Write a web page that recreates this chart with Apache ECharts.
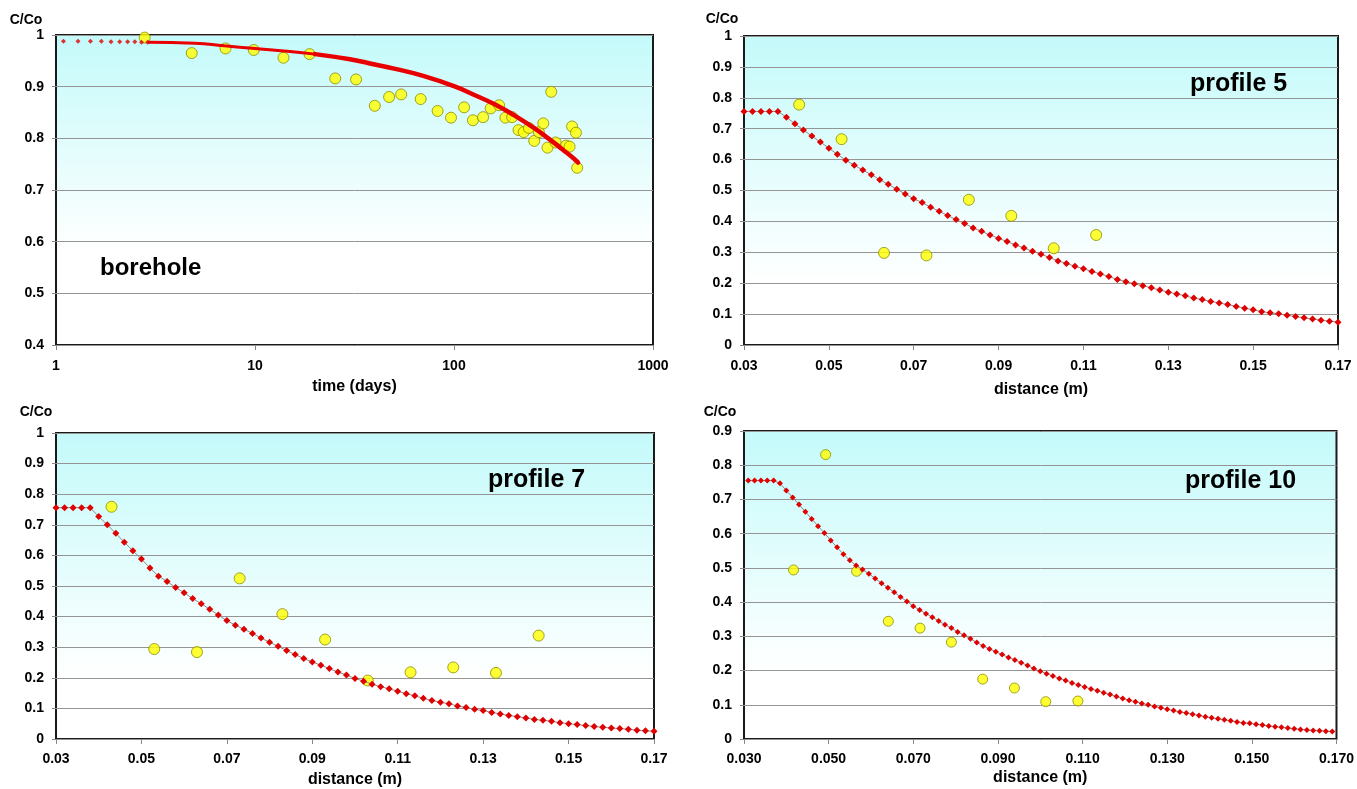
<!DOCTYPE html>
<html><head><meta charset="utf-8">
<script src="https://cdn.jsdelivr.net/npm/echarts@6/dist/echarts.min.js"></script>
<style>html,body{margin:0;padding:0;background:#fff}#c{width:1357px;height:789px}</style>
</head><body><div id="c"></div>
<script>
// ---------- borehole (top left) ----------
const boreholeTime = [2.79, 4.81, 7.11, 9.86, 13.9, 18.8, 25.3, 32.2, 40.0, 47.2, 54.3, 68.0, 82.7, 96.6, 112.4, 124.5, 140, 152.9, 168.5, 181.3, 196, 211, 224, 238, 253, 267, 281, 295, 308, 324, 366, 381, 392, 410, 416];
const boreholeC    = [0.995, 0.965, 0.974, 0.971, 0.956, 0.963, 0.916, 0.914, 0.863, 0.880, 0.885, 0.876, 0.853, 0.840, 0.860, 0.835, 0.841, 0.858, 0.864, 0.840, 0.841, 0.816, 0.812, 0.820, 0.795, 0.812, 0.829, 0.782, 0.890, 0.792, 0.786, 0.784, 0.823, 0.811, 0.743];
const boreholeModelDotTime = [1.09, 1.29, 1.49, 1.69, 1.89, 2.09, 2.29, 2.49, 2.69, 2.89];
const boreholeModelDotC    = [0.988, 0.988, 0.988, 0.988, 0.987, 0.987, 0.987, 0.987, 0.986, 0.986];
const boreholeModelTime = [2.89, 5, 7, 10, 15, 20, 30, 40, 50, 70, 100, 130, 160, 200, 250, 300, 350, 400, 420];
const boreholeModelC    = [0.986, 0.984, 0.979, 0.974, 0.968, 0.963, 0.953, 0.943, 0.935, 0.921, 0.901, 0.882, 0.866, 0.845, 0.821, 0.799, 0.779, 0.761, 0.753];

// ---------- profile 5 (top right) ----------
const profile5Dist = [0.043, 0.053, 0.063, 0.073, 0.083, 0.093, 0.103, 0.113];
const profile5C    = [0.778, 0.666, 0.298, 0.290, 0.470, 0.418, 0.313, 0.356];
const profileModelDist = [0.030, 0.032, 0.034, 0.036, 0.038, 0.040, 0.042, 0.044, 0.046, 0.048,
  0.050, 0.052, 0.054, 0.056, 0.058, 0.060, 0.062, 0.064, 0.066, 0.068,
  0.070, 0.072, 0.074, 0.076, 0.078, 0.080, 0.082, 0.084, 0.086, 0.088,
  0.090, 0.092, 0.094, 0.096, 0.098, 0.100, 0.102, 0.104, 0.106, 0.108,
  0.110, 0.112, 0.114, 0.116, 0.118, 0.120, 0.122, 0.124, 0.126, 0.128,
  0.130, 0.132, 0.134, 0.136, 0.138, 0.140, 0.142, 0.144, 0.146, 0.148,
  0.150, 0.152, 0.154, 0.156, 0.158, 0.160, 0.162, 0.164, 0.166, 0.168, 0.170];
const profile5ModelC = [0.756, 0.756, 0.756, 0.756, 0.756, 0.737, 0.716, 0.696, 0.676, 0.657,
  0.637, 0.617, 0.598, 0.582, 0.566, 0.551, 0.535, 0.520, 0.504, 0.489,
  0.473, 0.461, 0.446, 0.433, 0.419, 0.406, 0.393, 0.379, 0.368, 0.356,
  0.345, 0.335, 0.324, 0.314, 0.303, 0.294, 0.283, 0.272, 0.264, 0.255,
  0.247, 0.238, 0.230, 0.222, 0.212, 0.205, 0.198, 0.192, 0.185, 0.178,
  0.171, 0.165, 0.159, 0.152, 0.147, 0.141, 0.136, 0.131, 0.125, 0.119,
  0.114, 0.108, 0.104, 0.101, 0.096, 0.092, 0.088, 0.084, 0.080, 0.077, 0.074];

// ---------- profile 7 (bottom left) ----------
const profile7Dist = [0.043, 0.053, 0.063, 0.073, 0.083, 0.093, 0.103, 0.113, 0.123, 0.133, 0.143];
const profile7C    = [0.759, 0.294, 0.284, 0.525, 0.408, 0.325, 0.191, 0.218, 0.234, 0.216, 0.338];
const profile7ModelC = [0.756, 0.756, 0.756, 0.756, 0.756, 0.727, 0.700, 0.672, 0.643, 0.615,
  0.588, 0.559, 0.532, 0.515, 0.495, 0.478, 0.459, 0.442, 0.424, 0.405,
  0.387, 0.372, 0.359, 0.345, 0.330, 0.316, 0.303, 0.289, 0.276, 0.263,
  0.252, 0.241, 0.230, 0.219, 0.209, 0.198, 0.189, 0.179, 0.171, 0.164,
  0.156, 0.148, 0.141, 0.133, 0.126, 0.120, 0.115, 0.108, 0.103, 0.097,
  0.093, 0.087, 0.082, 0.077, 0.073, 0.069, 0.064, 0.061, 0.058, 0.053,
  0.050, 0.047, 0.044, 0.041, 0.038, 0.036, 0.034, 0.032, 0.029, 0.027, 0.025];

// ---------- profile 10 (bottom right) ----------
const profile10Dist = [0.0417, 0.0493, 0.0566, 0.0641, 0.0716, 0.0790, 0.0864, 0.0939, 0.1013, 0.1089];
const profile10C    = [0.494, 0.831, 0.490, 0.344, 0.324, 0.283, 0.175, 0.149, 0.109, 0.111];
const profile10ModelDist = [0.0310, 0.0325, 0.0340, 0.0355, 0.0370, 0.0385, 0.0400, 0.0415, 0.0430, 0.0445,
  0.0460, 0.0475, 0.0490, 0.0505, 0.0520, 0.0535, 0.0550, 0.0565, 0.0580, 0.0595,
  0.0610, 0.0625, 0.0640, 0.0655, 0.0670, 0.0685, 0.0700, 0.0715, 0.0730, 0.0745,
  0.0760, 0.0775, 0.0790, 0.0805, 0.0820, 0.0835, 0.0850, 0.0865, 0.0880, 0.0895,
  0.0910, 0.0925, 0.0940, 0.0955, 0.0970, 0.0985, 0.1000, 0.1015, 0.1030, 0.1045,
  0.1060, 0.1075, 0.1090, 0.1105, 0.1120, 0.1135, 0.1150, 0.1165, 0.1180, 0.1195,
  0.1210, 0.1225, 0.1240, 0.1255, 0.1270, 0.1285, 0.1300, 0.1315, 0.1330, 0.1345,
  0.1360, 0.1375, 0.1390, 0.1405, 0.1420, 0.1435, 0.1450, 0.1465, 0.1480, 0.1495,
  0.1510, 0.1525, 0.1540, 0.1555, 0.1570, 0.1585, 0.1600, 0.1615, 0.1630, 0.1645,
  0.1660, 0.1675, 0.1690];
const profile10ModelC = [0.755, 0.755, 0.755, 0.755, 0.755, 0.747, 0.726, 0.706, 0.685, 0.664,
  0.643, 0.622, 0.602, 0.580, 0.560, 0.540, 0.522, 0.507, 0.495, 0.483,
  0.469, 0.455, 0.442, 0.429, 0.415, 0.402, 0.388, 0.377, 0.366, 0.356,
  0.345, 0.334, 0.324, 0.313, 0.303, 0.293, 0.282, 0.272, 0.263, 0.255,
  0.247, 0.238, 0.231, 0.223, 0.215, 0.206, 0.198, 0.191, 0.184, 0.177,
  0.171, 0.164, 0.158, 0.152, 0.146, 0.141, 0.135, 0.130, 0.124, 0.118,
  0.113, 0.109, 0.104, 0.100, 0.095, 0.091, 0.087, 0.083, 0.079, 0.076,
  0.072, 0.069, 0.065, 0.062, 0.059, 0.056, 0.053, 0.050, 0.047, 0.046,
  0.043, 0.041, 0.038, 0.036, 0.034, 0.032, 0.030, 0.028, 0.026, 0.025,
  0.024, 0.023, 0.022];

const panelLabels = ['borehole', 'profile 5', 'profile 7', 'profile 10'];
const xTitles = ['time (days)', 'distance (m)', 'distance (m)', 'distance (m)'];
const yTitle = 'C/Co';

// ---------- helpers ----------
const zip = (a, b) => a.map((v, i) => [v, b[i]]);
const FONT = 'Liberation Sans, Arial, sans-serif';
const labelStyle = { fontFamily: FONT, fontWeight: 'bold', fontSize: 14, color: '#000' };
const bg = (whiteAt) => ({
  type: 'linear', x: 0, y: 0, x2: 0, y2: 1,
  colorStops: [
    { offset: 0, color: '#c4fafa' },
    { offset: whiteAt, color: '#ffffff' },
    { offset: 1, color: '#ffffff' }
  ]
});
const grids = [
  { left: 56, top: 35, width: 597, height: 310, show: true, backgroundColor: bg(0.7), borderColor: '#1a1a1a', borderWidth: 2 },
  { left: 744, top: 36, width: 594, height: 309, show: true, backgroundColor: bg(0.8), borderColor: '#1a1a1a', borderWidth: 2 },
  { left: 56, top: 433, width: 598, height: 306, show: true, backgroundColor: bg(0.8), borderColor: '#1a1a1a', borderWidth: 2 },
  { left: 744, top: 431, width: 595, height: 308, show: true, backgroundColor: bg(0.78), borderColor: '#1a1a1a', borderWidth: 2 }
];
const splitLine = { show: true, lineStyle: { color: '#959595', width: 1 } };
const tick = { show: true, length: 4, lineStyle: { color: '#888' } };
const xBase = (i, gap) => ({
  gridIndex: i, name: xTitles[i], nameLocation: 'middle', nameGap: gap,
  nameTextStyle: { fontFamily: FONT, fontWeight: 'bold', fontSize: 16, color: '#000' },
  axisLine: { show: false }, axisTick: { show: true, length: 5, lineStyle: { color: '#888' } },
  splitLine: { show: false }, axisLabel: Object.assign({ margin: 14 }, labelStyle)
});
const xAxes = [
  Object.assign(xBase(0, 34), { type: 'log', logBase: 10, min: 1, max: 1000,
    axisLabel: Object.assign({ margin: 14, formatter: v => String(Math.round(v)) }, labelStyle), minorTick: { show: false } }),
  Object.assign(xBase(1, 37), { type: 'value', min: 0.03, max: 0.17, interval: 0.02,
    axisLabel: Object.assign({ margin: 14, formatter: v => v.toFixed(2) }, labelStyle) }),
  Object.assign(xBase(2, 33), { type: 'value', min: 0.03, max: 0.17, interval: 0.02,
    axisLabel: Object.assign({ margin: 13, formatter: v => v.toFixed(2) }, labelStyle) }),
  Object.assign(xBase(3, 31), { type: 'value', min: 0.03, max: 0.17, interval: 0.02,
    axisLabel: Object.assign({ margin: 13, formatter: v => v.toFixed(3) }, labelStyle) })
];
const yBase = (i, min, max) => ({
  gridIndex: i, type: 'value', min: min, max: max, interval: 0.1,
  axisLine: { show: false }, axisTick: tick, splitLine: splitLine,
  axisLabel: Object.assign({ margin: 12, formatter: v => String(+v.toFixed(1)) }, labelStyle)
});
const yAxes = [yBase(0, 0.4, 1), yBase(1, 0, 1), yBase(2, 0, 1), yBase(3, 0, 0.9)];

const obsStyle = { color: '#ffff00', borderColor: '#8c8c00', borderWidth: 1 };
const obs = (i, d, s) => ({ type: 'scatter', xAxisIndex: i, yAxisIndex: i, data: d, symbol: 'circle', symbolSize: s || 11, itemStyle: obsStyle, z: 3 });
const model = (i, d, s) => ({ type: 'line', xAxisIndex: i, yAxisIndex: i, data: d, symbol: 'diamond', symbolSize: s, showSymbol: true,
  itemStyle: { color: '#e00000' }, lineStyle: { color: '#8a8a8a', width: 1 }, z: 4 });

const boreholeModel = zip(boreholeModelTime, boreholeModelC);
const series = [
  obs(0, zip(boreholeTime, boreholeC), 11),
  { type: 'scatter', xAxisIndex: 0, yAxisIndex: 0, data: zip(boreholeModelDotTime, boreholeModelDotC), symbol: 'diamond', symbolSize: 5, itemStyle: { color: '#e00000' }, z: 4 },
  { type: 'line', xAxisIndex: 0, yAxisIndex: 0, data: boreholeModel.filter(p => p[0] <= 20), smooth: true, showSymbol: false, lineStyle: { color: '#e80000', width: 3 }, z: 4 },
  { type: 'line', xAxisIndex: 0, yAxisIndex: 0, data: boreholeModel.filter(p => p[0] >= 20), smooth: true, showSymbol: false, lineStyle: { color: '#e80000', width: 4.5, cap: 'round' }, z: 4 },
  obs(1, zip(profile5Dist, profile5C)),
  model(1, zip(profileModelDist, profile5ModelC), 7),
  obs(2, zip(profile7Dist, profile7C)),
  model(2, zip(profileModelDist, profile7ModelC), 7),
  obs(3, zip(profile10Dist, profile10C), 10),
  model(3, zip(profile10ModelDist, profile10ModelC), 6)
];

const txt = (x, y, s, size, align) => ({ type: 'text', x: x, y: y, z: 10,
  style: { text: s, fontFamily: FONT, fontWeight: 'bold', fontSize: size, fill: '#000', textAlign: align || 'center', textVerticalAlign: 'middle' } });
const graphic = [
  txt(26, 20, yTitle, 14), txt(722, 19, yTitle, 14), txt(36, 412, yTitle, 14), txt(720, 412, yTitle, 14),
  txt(100, 268, panelLabels[0], 24, 'left'),
  txt(1190, 84, panelLabels[1], 25, 'left'),
  txt(488, 480, panelLabels[2], 25, 'left'),
  txt(1185, 481, panelLabels[3], 25, 'left')
];

const chart = echarts.init(document.getElementById('c'), null, { renderer: 'canvas' });
chart.setOption({
  animation: false, backgroundColor: '#ffffff',
  grid: grids, xAxis: xAxes, yAxis: yAxes, series: series, graphic: graphic
});
</script></body></html>
